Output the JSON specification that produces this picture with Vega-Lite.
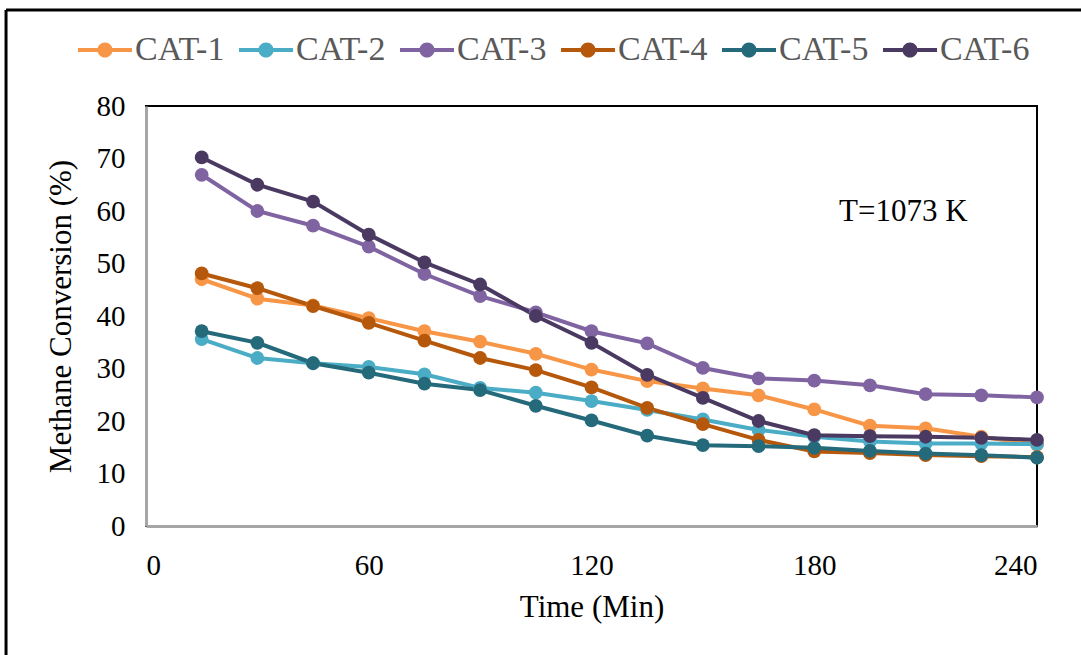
{
  "$schema": "https://vega.github.io/schema/vega-lite/v6.json",
  "autosize": {"type": "none"},
  "padding": {"left": 146, "top": 106, "right": 44, "bottom": 129},
  "width": 891,
  "height": 420,
  "background": "white",
  "config": {
    "view": {"stroke": "black", "strokeWidth": 2},
    "font": "Liberation Serif",
    "style": {"guide-label": {"font": "Liberation Serif"}, "guide-title": {"font": "Liberation Serif"}},
    "axis": {
      "grid": false,
      "ticks": false,
      "domainColor": "#A6A6A6",
      "domainWidth": 3,
      "labelFont": "Liberation Serif",
      "labelFontSize": 29,
      "labelColor": "black",
      "titleFont": "Liberation Serif",
      "titleFontSize": 31,
      "titleFontWeight": "normal",
      "titleColor": "black"
    },
    "legend": {
      "labelFont": "Liberation Serif",
      "labelFontSize": 34,
      "labelColor": "#595959",
      "symbolType": "M-1,-0.07 L1,-0.07 L1,0.07 L-1,0.07 Z M0.28,0 A0.28,0.28 0 1,1 -0.28,0 A0.28,0.28 0 1,1 0.28,0 Z",
      "symbolSize": 2916,
      "symbolStrokeWidth": 0,
      "labelOffset": 3,
      "columnPadding": 14
    }
  },
  "data": {
    "values": [
      {"t": 15, "cat": "CAT-1", "v": 47.0}, {"t": 30, "cat": "CAT-1", "v": 43.3}, {"t": 45, "cat": "CAT-1", "v": 42.0}, {"t": 60, "cat": "CAT-1", "v": 39.6},
      {"t": 75, "cat": "CAT-1", "v": 37.1}, {"t": 90, "cat": "CAT-1", "v": 35.1}, {"t": 105, "cat": "CAT-1", "v": 32.8}, {"t": 120, "cat": "CAT-1", "v": 29.8},
      {"t": 135, "cat": "CAT-1", "v": 27.6}, {"t": 150, "cat": "CAT-1", "v": 26.2}, {"t": 165, "cat": "CAT-1", "v": 24.9}, {"t": 180, "cat": "CAT-1", "v": 22.2},
      {"t": 195, "cat": "CAT-1", "v": 19.1}, {"t": 210, "cat": "CAT-1", "v": 18.6}, {"t": 225, "cat": "CAT-1", "v": 17.0}, {"t": 240, "cat": "CAT-1", "v": 15.5},

      {"t": 15, "cat": "CAT-2", "v": 35.6}, {"t": 30, "cat": "CAT-2", "v": 32.0}, {"t": 45, "cat": "CAT-2", "v": 31.0}, {"t": 60, "cat": "CAT-2", "v": 30.3},
      {"t": 75, "cat": "CAT-2", "v": 28.9}, {"t": 90, "cat": "CAT-2", "v": 26.3}, {"t": 105, "cat": "CAT-2", "v": 25.4}, {"t": 120, "cat": "CAT-2", "v": 23.8},
      {"t": 135, "cat": "CAT-2", "v": 22.1}, {"t": 150, "cat": "CAT-2", "v": 20.3}, {"t": 165, "cat": "CAT-2", "v": 18.3}, {"t": 180, "cat": "CAT-2", "v": 17.0},
      {"t": 195, "cat": "CAT-2", "v": 16.1}, {"t": 210, "cat": "CAT-2", "v": 15.7}, {"t": 225, "cat": "CAT-2", "v": 15.7}, {"t": 240, "cat": "CAT-2", "v": 15.6},

      {"t": 15, "cat": "CAT-3", "v": 66.9}, {"t": 30, "cat": "CAT-3", "v": 60.0}, {"t": 45, "cat": "CAT-3", "v": 57.2}, {"t": 60, "cat": "CAT-3", "v": 53.2},
      {"t": 75, "cat": "CAT-3", "v": 48.0}, {"t": 90, "cat": "CAT-3", "v": 43.8}, {"t": 105, "cat": "CAT-3", "v": 40.7}, {"t": 120, "cat": "CAT-3", "v": 37.1},
      {"t": 135, "cat": "CAT-3", "v": 34.8}, {"t": 150, "cat": "CAT-3", "v": 30.1}, {"t": 165, "cat": "CAT-3", "v": 28.1}, {"t": 180, "cat": "CAT-3", "v": 27.7},
      {"t": 195, "cat": "CAT-3", "v": 26.8}, {"t": 210, "cat": "CAT-3", "v": 25.1}, {"t": 225, "cat": "CAT-3", "v": 24.9}, {"t": 240, "cat": "CAT-3", "v": 24.5},

      {"t": 15, "cat": "CAT-4", "v": 48.1}, {"t": 30, "cat": "CAT-4", "v": 45.3}, {"t": 45, "cat": "CAT-4", "v": 41.9}, {"t": 60, "cat": "CAT-4", "v": 38.7},
      {"t": 75, "cat": "CAT-4", "v": 35.3}, {"t": 90, "cat": "CAT-4", "v": 32.0}, {"t": 105, "cat": "CAT-4", "v": 29.7}, {"t": 120, "cat": "CAT-4", "v": 26.4},
      {"t": 135, "cat": "CAT-4", "v": 22.5}, {"t": 150, "cat": "CAT-4", "v": 19.4}, {"t": 165, "cat": "CAT-4", "v": 16.4}, {"t": 180, "cat": "CAT-4", "v": 14.2},
      {"t": 195, "cat": "CAT-4", "v": 13.9}, {"t": 210, "cat": "CAT-4", "v": 13.5}, {"t": 225, "cat": "CAT-4", "v": 13.3}, {"t": 240, "cat": "CAT-4", "v": 13.1},

      {"t": 15, "cat": "CAT-5", "v": 37.1}, {"t": 30, "cat": "CAT-5", "v": 34.9}, {"t": 45, "cat": "CAT-5", "v": 31.0}, {"t": 60, "cat": "CAT-5", "v": 29.2},
      {"t": 75, "cat": "CAT-5", "v": 27.1}, {"t": 90, "cat": "CAT-5", "v": 25.9}, {"t": 105, "cat": "CAT-5", "v": 22.9}, {"t": 120, "cat": "CAT-5", "v": 20.1},
      {"t": 135, "cat": "CAT-5", "v": 17.2}, {"t": 150, "cat": "CAT-5", "v": 15.4}, {"t": 165, "cat": "CAT-5", "v": 15.2}, {"t": 180, "cat": "CAT-5", "v": 14.9},
      {"t": 195, "cat": "CAT-5", "v": 14.3}, {"t": 210, "cat": "CAT-5", "v": 13.8}, {"t": 225, "cat": "CAT-5", "v": 13.5}, {"t": 240, "cat": "CAT-5", "v": 13.0},

      {"t": 15, "cat": "CAT-6", "v": 70.2}, {"t": 30, "cat": "CAT-6", "v": 65.0}, {"t": 45, "cat": "CAT-6", "v": 61.8}, {"t": 60, "cat": "CAT-6", "v": 55.5},
      {"t": 75, "cat": "CAT-6", "v": 50.2}, {"t": 90, "cat": "CAT-6", "v": 46.0}, {"t": 105, "cat": "CAT-6", "v": 40.0}, {"t": 120, "cat": "CAT-6", "v": 34.9},
      {"t": 135, "cat": "CAT-6", "v": 28.8}, {"t": 150, "cat": "CAT-6", "v": 24.4}, {"t": 165, "cat": "CAT-6", "v": 20.0}, {"t": 180, "cat": "CAT-6", "v": 17.3},
      {"t": 195, "cat": "CAT-6", "v": 17.1}, {"t": 210, "cat": "CAT-6", "v": 17.0}, {"t": 225, "cat": "CAT-6", "v": 16.8}, {"t": 240, "cat": "CAT-6", "v": 16.4}
    ]
  },
  "layer": [
    {
      "data": {"values": [{}]},
      "mark": {"type": "rule", "color": "black", "strokeWidth": 3, "clip": false},
      "encoding": {
        "x": {"datum": -37.7, "type": "quantitative", "scale": {"domain": [0, 240]}},
        "y": {"datum": 98.3, "type": "quantitative", "scale": {"domain": [0, 80]}},
        "y2": {"datum": -25}
      }
    },
    {
      "data": {"values": [{}]},
      "mark": {"type": "rule", "color": "black", "strokeWidth": 3, "clip": false},
      "encoding": {
        "x": {"datum": -37.7, "type": "quantitative"},
        "x2": {"datum": 253},
        "y": {"datum": 98.3, "type": "quantitative"}
      }
    },
    {
      "mark": {"type": "line", "strokeWidth": 4},
      "encoding": {
        "x": {"field": "t", "type": "quantitative", "title": "Time (Min)",
              "scale": {"domain": [0, 240], "nice": false},
              "axis": {"values": [0, 60, 120, 180, 240], "labelPadding": 25, "titlePadding": 12}},
        "y": {"field": "v", "type": "quantitative", "title": "Methane Conversion (%)",
              "scale": {"domain": [0, 80], "nice": false},
              "axis": {"values": [0, 10, 20, 30, 40, 50, 60, 70, 80], "labelPadding": 21, "titlePadding": 19}},
        "color": {"field": "cat", "type": "nominal",
                  "scale": {"domain": ["CAT-1", "CAT-2", "CAT-3", "CAT-4", "CAT-5", "CAT-6"],
                            "range": ["#F79646", "#4BACC6", "#8064A2", "#B5580B", "#246A7B", "#4A3961"]},
                  "legend": {"title": null, "orient": "none", "direction": "horizontal", "legendX": -68, "legendY": -83,
                             "encode": {"symbols": {"update": {"fill": {"scale": "color", "field": "value"}, "opacity": {"value": 1}, "strokeWidth": {"value": 0}}}}}},
        "order": {"field": "t"}
      }
    },
    {
      "mark": {"type": "point", "filled": true, "opacity": 1, "size": 190},
      "encoding": {
        "x": {"field": "t", "type": "quantitative"},
        "y": {"field": "v", "type": "quantitative"},
        "color": {"field": "cat", "type": "nominal"}
      }
    },
    {
      "data": {"values": [{}]},
      "mark": {"type": "text", "font": "Liberation Serif", "fontSize": 31, "fill": "black", "align": "center", "baseline": "middle"},
      "encoding": {
        "x": {"datum": 204, "type": "quantitative"},
        "y": {"datum": 59.8, "type": "quantitative"},
        "text": {"value": "T=1073 K"}
      }
    }
  ]
}
